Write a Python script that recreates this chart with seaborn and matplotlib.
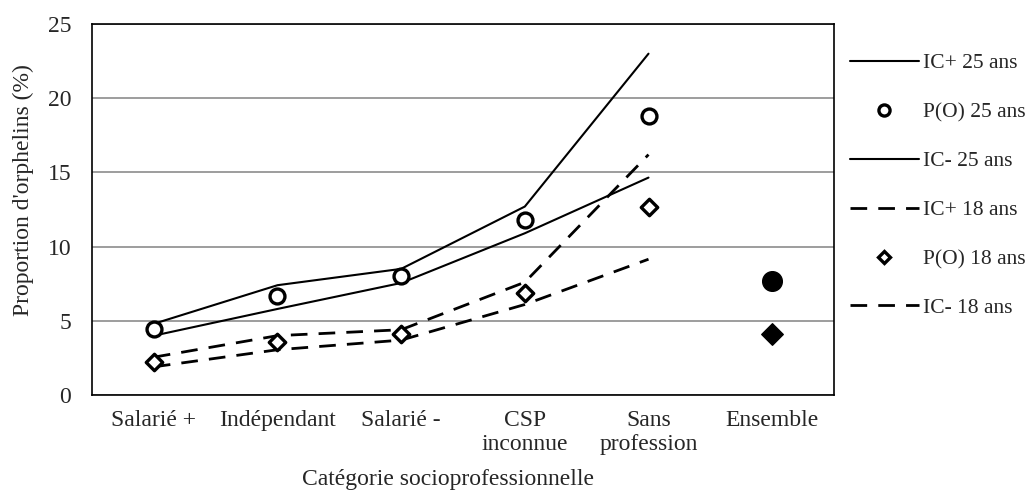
import matplotlib
matplotlib.use("Agg")
import matplotlib.pyplot as plt
import seaborn as sns
import numpy as np
import pandas as pd
from matplotlib.lines import Line2D

categories = ["Salarié +", "Indépendant", "Salarié -", "CSP\ninconnue", "Sans\nprofession", "Ensemble"]
line_cats = categories[:5]

ic_plus_25 = [4.8, 7.4, 8.5, 12.7, 23.0]
p_25 = [4.45, 6.65, 8.05, 11.8, 18.8]
ic_minus_25 = [4.0, 5.8, 7.55, 10.9, 14.65]
ic_plus_18 = [2.55, 4.0, 4.4, 7.6, 16.2]
p_18 = [2.25, 3.55, 4.1, 6.9, 12.65]
ic_minus_18 = [1.9, 3.05, 3.7, 6.1, 9.15]
ensemble_25 = 7.65
ensemble_18 = 4.1

legend_labels = ["IC+ 25 ans", "P(O) 25 ans", "IC- 25 ans", "IC+ 18 ans", "P(O) 18 ans", "IC- 18 ans"]

sns.set_style("white")
plt.rcParams["font.family"] = ["Liberation Serif", "DejaVu Serif"]

fig, ax = plt.subplots(figsize=(10.29, 4.97), dpi=100)
fig.subplots_adjust(left=0.0894, right=0.8105, top=0.9517, bottom=0.2052)

xpos = np.arange(len(line_cats))
df = pd.DataFrame({"x": xpos, "icp25": ic_plus_25, "p25": p_25, "icm25": ic_minus_25,
                   "icp18": ic_plus_18, "p18": p_18, "icm18": ic_minus_18})

# confidence bounds: solid for 25 ans, dashed for 18 ans
dash = (6, 4)
sns.lineplot(data=df, x="x", y="icp25", ax=ax, color="black", lw=1.5)
sns.lineplot(data=df, x="x", y="icm25", ax=ax, color="black", lw=1.5)
sns.lineplot(data=df, x="x", y="icp18", ax=ax, color="black", lw=2, linestyle=(0, dash))
sns.lineplot(data=df, x="x", y="icm18", ax=ax, color="black", lw=2, linestyle=(0, dash))
sns.scatterplot(data=df, x="x", y="p25", ax=ax, marker="o", s=115, facecolor="white",
                edgecolor="black", linewidth=2.4, zorder=5)
sns.scatterplot(data=df, x="x", y="p18", ax=ax, marker="D", s=70, facecolor="white",
                edgecolor="black", linewidth=2.4, zorder=5)
ax.scatter([5], [ensemble_25], marker="o", s=200, color="black", zorder=5)
ax.scatter([5], [ensemble_18], marker="D", s=120, color="black", zorder=5)

ax.set_xlim(-0.5, 5.5)
ax.set_ylim(0, 25)
ax.set_yticks(range(0, 26, 5))
ax.set_xticks(range(len(categories)))
ax.set_xticklabels(categories)
ax.yaxis.grid(True, color="#8c8c8c", lw=1.2)
ax.set_axisbelow(True)
for s in ax.spines.values():
    s.set_color("black")
    s.set_linewidth(1.2)
ax.tick_params(axis="both", labelsize=17, length=0)
ax.tick_params(axis="y", pad=15)
ax.tick_params(axis="x", pad=11)
ax.set_xlabel("Catégorie socioprofessionnelle", fontsize=17)
ax.set_ylabel("Proportion d'orphelins (%)", fontsize=17)
ax.xaxis.set_label_coords(0.48, -0.2)
ax.yaxis.set_label_coords(-0.078, 0.553)

handles = [
    Line2D([], [], color="black", lw=1.5),
    Line2D([], [], color="black", lw=0, marker="o", markersize=8, markerfacecolor="white", markeredgewidth=2.4),
    Line2D([], [], color="black", lw=1.5),
    Line2D([], [], color="black", lw=2, linestyle=(0, dash)),
    Line2D([], [], color="black", lw=0, marker="D", markersize=6.5, markerfacecolor="white", markeredgewidth=2.4),
    Line2D([], [], color="black", lw=2, linestyle=(0, dash)),
]
fig.legend(handles, legend_labels, loc="upper left", bbox_to_anchor=(0.8177, 0.91), frameon=False,
           fontsize=15.5, handlelength=3.2, handletextpad=0.2, labelspacing=1.34, borderaxespad=0)

fig.savefig("out.png", dpi=100)
